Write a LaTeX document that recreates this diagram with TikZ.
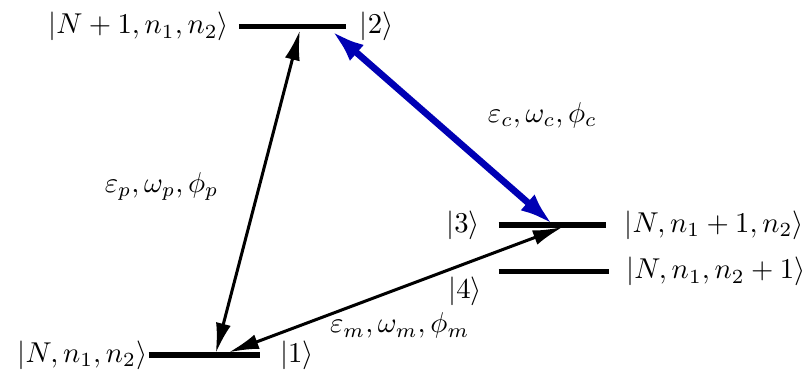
\documentclass[tikz,border=0pt]{standalone}
\usetikzlibrary{arrows.meta,positioning}
\definecolor{cplblue}{RGB}{0,0,180}
\begin{document}
\begin{tikzpicture}[every node/.style = {scale=0.95},
	level/.style = {line width=1.9pt},
	field/.style = {line width=1pt, {Latex[length=10pt,width=5pt]}-{Latex[length=10pt,width=5pt]}},
	coupling/.style = {line width=2.2pt, cplblue, {Latex[length=11pt,width=7pt]}-{Latex[length=11pt,width=7pt]}}]
		\useasboundingbox (0,0) rectangle (9.4,4.43);
		% levels
		\draw [level] (1.73,0.30) coordinate (l1w) -- (3.02,0.30) coordinate (l1e);
		\draw [level] (2.78,4.12) coordinate (l2w) -- (4.02,4.12) coordinate (l2e);
		\draw [level] (5.80,1.81) coordinate (l3w) -- (7.05,1.81) coordinate (l3e);
		\draw [level] (5.80,1.27) coordinate (l4w) -- (7.09,1.27) coordinate (l4e);
		\node [left = -1mm of l1w] (k1) {$|N,n_1,n_2\rangle$};
		\node [right = 1.2mm of l1e] (s1) {$|1\rangle$};
		\node [left = 0mm of l2w] (k2) {$|N+1,n_1,n_2\rangle$};
		\node [right = 0.5mm of l2e] (s2) {$|2\rangle$};
		\node [left = 1mm of l3w] (s3) {$|3\rangle$};
		\node [right = 1mm of l3e] (k3) {$|N,n_1+1,n_2\rangle$};
		\node [right = 0.8mm of l4e] (k4) {$|N,n_1,n_2+1\rangle$};
		\node (s4) at (5.41,1.04) {$|4\rangle$};
		% fields
		\coordinate (p1) at (2.51,0.32);
		\coordinate (p2) at (3.49,4.08);
		\coordinate (c2) at (3.86,4.07);
		\coordinate (c3) at (6.43,1.82);
		\coordinate (m1) at (2.66,0.33);
		\coordinate (m3) at (6.55,1.79);
		\draw [field] (p1) -- (p2);
		\draw [coupling] (c2) -- (c3);
		\draw [field] (m1) -- (m3);
		\node (lp) at (1.88,2.26) {$\varepsilon_p,\omega_p,\phi_p$};
		\node (lc) at (6.31,3.09) {$\varepsilon_c,\omega_c,\phi_c$};
		\node (lm) at (4.65,0.64) {$\varepsilon_m,\omega_m,\phi_m$};
	\end{tikzpicture}
\end{document}
